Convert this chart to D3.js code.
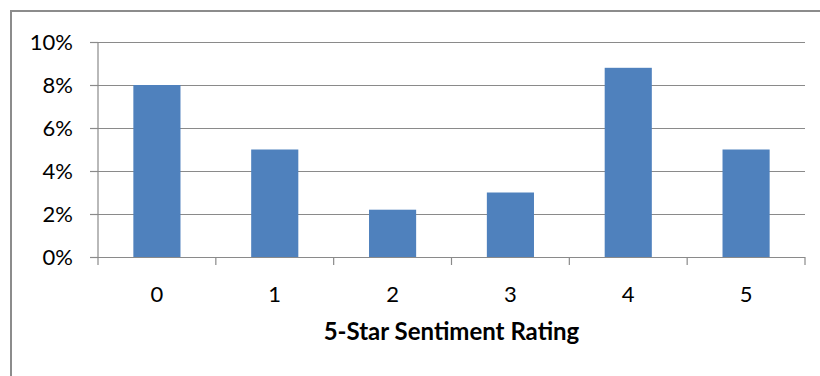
<!DOCTYPE html>
<html><head><meta charset="utf-8">
<script src="https://cdn.jsdelivr.net/npm/d3@7"></script>
<style>
html,body{margin:0;padding:0;background:#fff;}
svg{display:block;}
text{font-family:Lato,"Open Sans",sans-serif;fill:#000;}
</style></head>
<body>
<svg id="c" width="820" height="376"></svg>
<script>
const categories = ["0","1","2","3","4","5"];
const values = [0.080, 0.050, 0.022, 0.030, 0.088, 0.050];
const yTicks = [0, 0.02, 0.04, 0.06, 0.08, 0.10];
const xTitle = "5-Star Sentiment Rating";

const svg = d3.select("#c");
const m = {left: 98, right: 805, top: 42, bottom: 257};

// outer frame (top and left edges visible)
svg.append("path").attr("d", "M11,376 V11 H820")
  .attr("fill","none").attr("stroke","#8c8c8c").attr("stroke-width",2);

const x = d3.scaleBand().domain(categories).range([m.left, m.right])
  .paddingInner(0.6).paddingOuter(0.3);
const y = d3.scaleLinear().domain([0, 0.10]).range([m.bottom, m.top]);

// gridlines
svg.append("g").selectAll("line").data(yTicks.filter(d => d > 0)).join("line")
  .attr("x1", m.left).attr("x2", m.right)
  .attr("y1", d => Math.round(y(d)) + 0.5).attr("y2", d => Math.round(y(d)) + 0.5)
  .attr("stroke", "#8a8a8a").attr("stroke-width", 1.2);

// bars
svg.append("g").selectAll("rect").data(values).join("rect")
  .attr("x", (d,i) => x(categories[i]))
  .attr("width", x.bandwidth())
  .attr("y", d => y(d))
  .attr("height", d => y(0) - y(d))
  .attr("fill", "#4f81bd");

// y axis
const yAxis = d3.axisLeft(y).tickValues(yTicks).tickFormat(d3.format(".0%"))
  .tickSize(8).tickPadding(17);
const gy = svg.append("g").attr("transform", `translate(${m.left},0)`).call(yAxis);
gy.select(".domain").attr("stroke", "#8a8a8a").attr("stroke-width", 1.2).attr("d", `M0,${m.top}V${m.bottom}`);
gy.selectAll(".tick line").attr("stroke", "#8a8a8a").attr("stroke-width", 1.2);
gy.selectAll(".tick text").attr("font-size", 22).attr("font-family", "Lato, sans-serif").attr("fill", "#000");

// x axis: ticks at band boundaries
const gx = svg.append("g").attr("transform", `translate(0,${m.bottom})`);
gx.append("line").attr("x1", m.left).attr("x2", m.right).attr("y1", 0.5).attr("y2", 0.5)
  .attr("stroke", "#8a8a8a").attr("stroke-width", 1.2);
const step = x.step();
const bounds = d3.range(categories.length + 1).map(i => m.left + i * step);
gx.selectAll("line.tk").data(bounds).join("line").attr("class","tk")
  .attr("x1", d => d).attr("x2", d => d).attr("y1", 0).attr("y2", 8)
  .attr("stroke", "#8a8a8a").attr("stroke-width", 1.2);
gx.selectAll("text").data(categories).join("text")
  .attr("x", d => x(d) + x.bandwidth()/2).attr("y", 45)
  .attr("text-anchor", "middle").attr("font-size", 22).text(d => d);

// x title
svg.append("text").attr("x", (m.left + m.right)/2).attr("y", 340)
  .attr("text-anchor", "middle").attr("font-size", 24).attr("font-weight", "bold")
  .text(xTitle);
</script>
</body></html>
